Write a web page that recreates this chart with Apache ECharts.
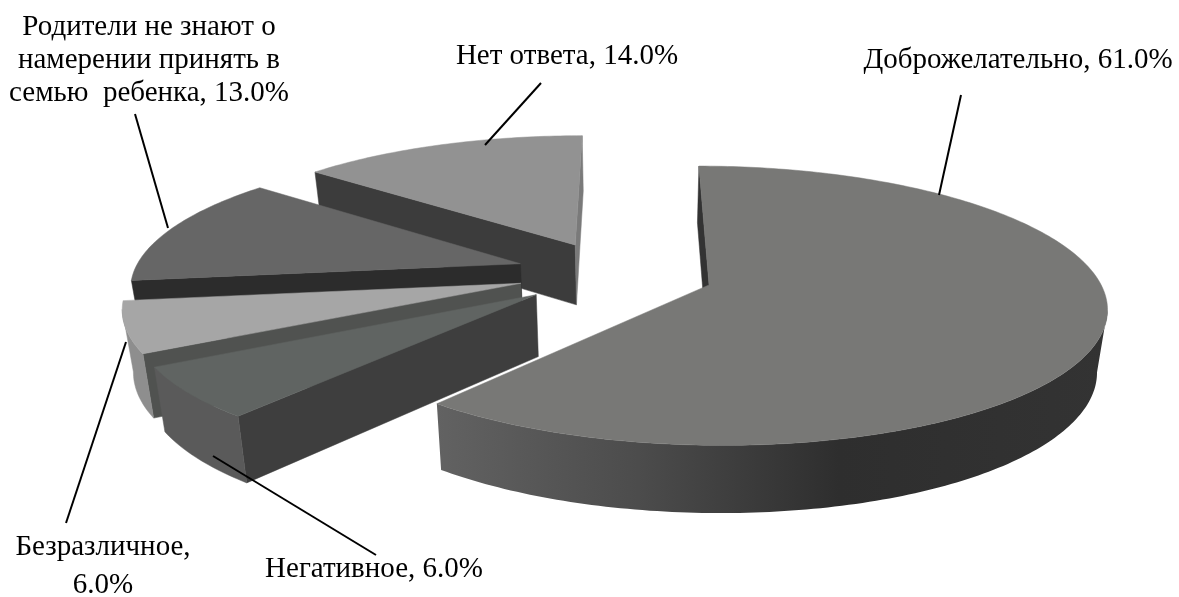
<!DOCTYPE html>
<html><head><meta charset="utf-8">
<style>html,body{margin:0;background:#fff}#c{width:1179px;height:597px}</style>
<script src="https://cdn.jsdelivr.net/npm/echarts@6/dist/echarts.min.js"></script>
</head><body><div id="c"></div>
<script>
const categories = ['Доброжелательно','Негативное','Безразличное','Родители не знают о намерении принять в семью ребенка','Нет ответа'];
const values = [61,6,6,13,14];
const topColors = ['#787876','#606462','#a6a6a6','#666666','#929292'];
const sideColors = ['#333333','#3e3e3e','#505250','#2c2c2c','#3c3c3c'];
const endColors = ['#333333','#3e3e3e','#505250','#2c2c2c','#7a7a7a'];
const rimColors = [null,'#5a5a5a','#8e8e8e','#2c2c2c','#777777'];
const explode = [0.261,0.25,0.247,0.252,0.24];
const drawOrder = [4,3,2,1,0];

const O={x:613,y:273},R=387,A=0.147,B=133,H=61,VX=631,TAPER=0.022;
function proj(X,Y,down){const p=1/(1-A*Y);
  const x=VX+(O.x-VX+X*R)*p,y=O.y+B*Y*p;
  return down?[VX+(x-VX)*(1-TAPER),y+H*Math.pow(p,0.6)]:[x,y];}
const total=values.reduce((a,b)=>a+b,0);
let acc=0;const spans=values.map(v=>{const s=acc/total*2*Math.PI;acc+=v;return [s,acc/total*2*Math.PI];});
function build(i){
  const [s,e]=spans[i],m=(s+e)/2,ex=explode[i];
  const ax=ex*Math.sin(m),ay=-ex*Math.cos(m);
  const pt=(t,d)=>proj(ax+Math.sin(t),ay-Math.cos(t),d);
  const apex=proj(ax,ay,false),apexD=proj(ax,ay,true);
  const n=Math.max(24,Math.round((e-s)*60));
  const ts=[];for(let k=0;k<=n;k++)ts.push(s+(e-s)*k/n);
  const els=[];
  const mid=pt(m,false);
  [[s,sideColors[i]],[e,endColors[i]]].forEach(([t,c])=>{const b=pt(t,false);
    const dx=b[0]-apex[0],dy=b[1]-apex[1];
    const cDown=dx,cIn=dx*(mid[1]-apex[1])-dy*(mid[0]-apex[0]);
    if(cDown*cIn<0){els.push({type:'polygon',shape:{points:[apex,b,pt(t,true),apexD]},
      style:{fill:c,stroke:c,lineWidth:.5}});}
  });
  let run=[];const runs=[];
  for(let k=0;k<n;k++){
    const vis=pt(ts[k+1],false)[0]<pt(ts[k],false)[0];
    if(vis){if(!run.length)run.push(ts[k]);run.push(ts[k+1]);}
    else if(run.length){runs.push(run);run=[];}
  }
  if(run.length)runs.push(run);
  runs.forEach(r=>{
    const pts=r.map(t=>pt(t,false)).concat(r.slice().reverse().map(t=>pt(t,true)));
    let fill=rimColors[i];
    if(i===0){fill=new echarts.graphic.LinearGradient(437,0,1107,0,[
      {offset:0,color:'#626262'},{offset:.3,color:'#4c4c4c'},{offset:.6,color:'#2e2e2e'},{offset:1,color:'#333333'}],true);}
    els.push({type:'polygon',shape:{points:pts},style:{fill,stroke:typeof fill==='string'?fill:null,lineWidth:.5}});
  });
  const topPts=[apex].concat(ts.map(t=>pt(t,false)));
  els.push({type:'polygon',shape:{points:topPts},style:{fill:topColors[i],stroke:topColors[i],lineWidth:.5}});
  return {type:'group',children:els};
}
const fmt=v=>v.toFixed(1)+'%';
const labelFont='29px "Liberation Serif"';
function txt(x,y,text){return {type:'text',x,y,style:{text,font:labelFont,fill:'#000',align:'center',verticalAlign:'middle'},z:10};}
function line(a,b,c,d){return {type:'line',shape:{x1:a,y1:b,x2:c,y2:d},style:{stroke:'#000',lineWidth:2},z:9};}
const chart=echarts.init(document.getElementById('c'),null,{renderer:'canvas'});
chart.setOption({
  animation:false,
  series:[{type:'custom',coordinateSystem:'none',silent:true,clip:false,
    data:drawOrder.map(i=>[i,values[i]]),
    renderItem:(p,api)=>build(api.value(0))}],
  graphic:[
    line(961,95,939,195),line(541,83,485,145),line(135,114,168,228),line(126,342,66,523),line(213,456,376,555),
    txt(1018,60,categories[0]+', '+fmt(values[0])),
    txt(567,56,categories[4]+', '+fmt(values[4])),
    txt(149,27,'Родители не знают о'),
    txt(149,60,'намерении принять в'),
    txt(149,93,'семью  ребенка, '+fmt(values[3])),
    txt(103,547,categories[2]+','),
    txt(103,585,fmt(values[2])),
    txt(374,569,categories[1]+', '+fmt(values[1]))
  ]
});
</script></body></html>
